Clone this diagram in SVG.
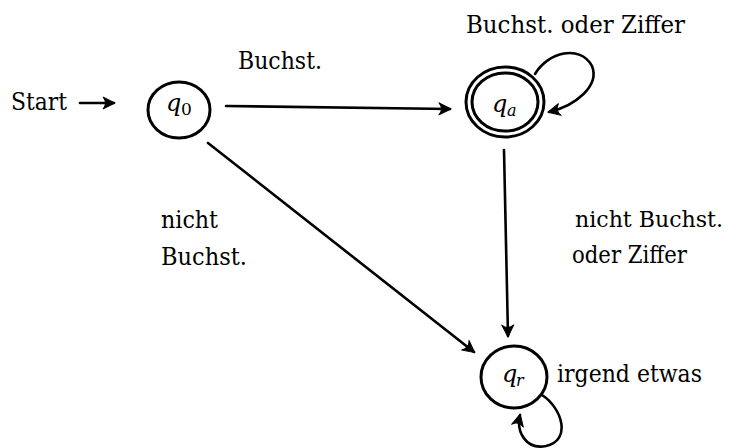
<svg xmlns="http://www.w3.org/2000/svg" width="731" height="448" viewBox="0 0 731 448">
  <style>
    text { font-family: "DejaVu Serif", "Liberation Serif", serif; fill: #000; }
    .lbl { font-size: 24px; }
    .st { font-style: italic; font-size: 24px; }
    .sub { font-size: 17px; }
    .subi { font-style: italic; font-size: 16px; }
    .ring { fill: none; stroke: #000; stroke-width: 3; }
    .edge { fill: none; stroke: #000; stroke-width: 2.6; stroke-linecap: round; }
  </style>
  <defs>
    <marker id="head" markerUnits="userSpaceOnUse" markerWidth="16" markerHeight="14" refX="0" refY="0" viewBox="-13 -7 16 14" orient="auto" overflow="visible">
      <path d="M 1 0 L -11 -6 Q -6 0 -11 6 Z" fill="#000" stroke="#000" stroke-width="1" stroke-linejoin="round"/>
    </marker>
  </defs>

  <!-- transitions -->
  <g id="connectors">
    <path class="edge" d="M 80 103 L 114 103" marker-end="url(#head)"/>
    <path class="edge" d="M 226 106 L 450 109" marker-end="url(#head)"/>
    <path class="edge" d="M 208 143 L 474 352" marker-end="url(#head)"/>
    <path class="edge" d="M 504 150 L 508 336" marker-end="url(#head)"/>
    <path class="edge" d="M 535 74 C 548 52, 580 44, 592 66 C 600 86, 575 106, 549 112" marker-end="url(#head)"/>
    <path class="edge" d="M 542 395 C 562 408, 572 440, 546 446 C 526 450, 516 432, 520 415" marker-end="url(#head)"/>
  </g>

  <!-- edge labels -->
  <g id="labels">
    <text class="lbl" x="11" y="110" textLength="56" lengthAdjust="spacingAndGlyphs">Start</text>
    <text class="lbl" x="238" y="69" textLength="84" lengthAdjust="spacingAndGlyphs">Buchst.</text>
    <text class="lbl" x="466" y="33" textLength="219" lengthAdjust="spacingAndGlyphs">Buchst. oder Ziffer</text>
    <text class="lbl" x="161" y="228" textLength="57" lengthAdjust="spacingAndGlyphs">nicht</text>
    <text class="lbl" x="161" y="265" textLength="86" lengthAdjust="spacingAndGlyphs">Buchst.</text>
    <text class="lbl" x="575" y="227" style="font-size:22px" textLength="148" lengthAdjust="spacingAndGlyphs">nicht Buchst.</text>
    <text class="lbl" x="572" y="263" textLength="115" lengthAdjust="spacingAndGlyphs">oder Ziffer</text>
    <text class="lbl" x="557" y="382" textLength="145" lengthAdjust="spacingAndGlyphs">irgend etwas</text>
  </g>

  <!-- start state -->
  <g id="q0">
    <ellipse class="ring" cx="179" cy="110" rx="31" ry="28"/>
    <text class="st" x="166" y="111">q</text>
    <text class="sub" x="181" y="115">0</text>
  </g>

  <!-- accepting state -->
  <g id="qa">
    <ellipse class="ring" cx="505" cy="102" rx="39" ry="35"/>
    <ellipse class="ring" cx="505" cy="102" rx="33" ry="29"/>
    <text class="st" x="492" y="112">q</text>
    <text class="subi" x="507" y="116">a</text>
  </g>

  <!-- rejecting state -->
  <g id="qr">
    <ellipse class="ring" cx="514" cy="377" rx="33" ry="31"/>
    <text class="st" x="502" y="382">q</text>
    <text class="subi" x="516" y="386">r</text>
  </g>
</svg>
